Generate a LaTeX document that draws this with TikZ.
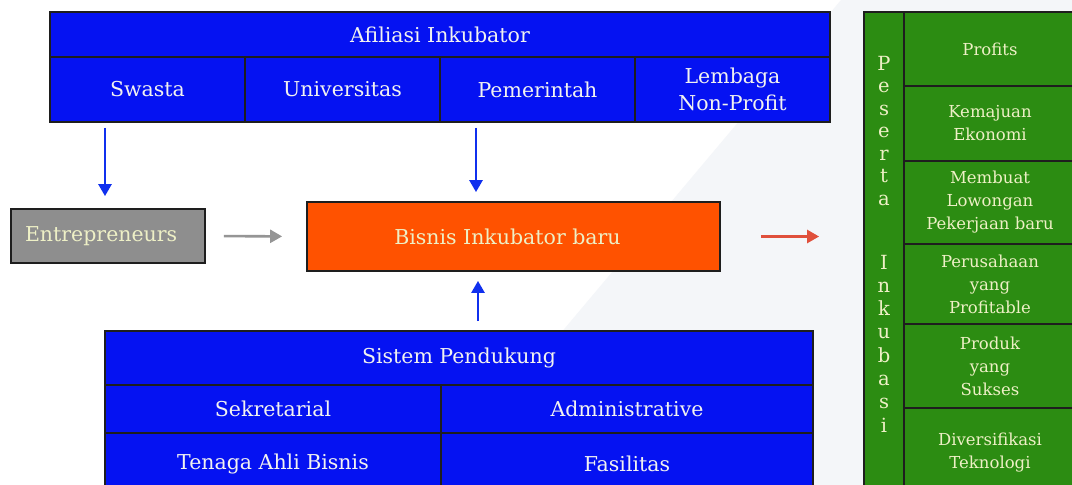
\documentclass[tikz,border=0pt]{standalone}
\usepackage{fontspec}
\setmainfont{DejaVu Serif}
\usetikzlibrary{arrows.meta}
\definecolor{boxblue}{HTML}{0512F2}
\definecolor{boxgreen}{HTML}{2C8C12}
\definecolor{boxorange}{HTML}{FF5200}
\definecolor{boxgray}{HTML}{8E8E8E}
\definecolor{edgedark}{HTML}{1E1E1E}
\definecolor{txtlight}{HTML}{F2F2F0}
\definecolor{txtcream}{HTML}{EEF0C6}
\definecolor{arrowred}{HTML}{E0503C}
\definecolor{arrowgray}{HTML}{959595}
\definecolor{arrowblue}{HTML}{1030EE}
\definecolor{bgshade}{HTML}{F4F6F9}
\newcommand{\bigtxt}{\fontsize{20.5}{27}\selectfont}
\newcommand{\smalltxt}{\fontsize{16.5}{23}\selectfont}
\tikzset{
  cell/.style={draw=edgedark, line width=1.8pt, inner sep=0pt, align=center},
  bluecell/.style={cell, fill=boxblue, text=txtlight, font=\bigtxt},
  greencell/.style={cell, fill=boxgreen, text=txtcream, font=\smalltxt,
    minimum width=172pt},
  letter/.style={inner sep=0pt, anchor=base, text=txtcream, font=\fontsize{19.5}{19.5}\selectfont},
  flow/.style={line width=2.6pt, -{Triangle[length=12pt,width=13pt]}}
}
\begin{document}
\begin{tikzpicture}[x=1pt, y=-1pt]
\useasboundingbox (0,0) rectangle (1072,485);
\clip (0,0) rectangle (1072,485);
\fill[white] (0,0) rectangle (1072,485);
\fill[bgshade] (841,0) -- (1072,0) -- (1072,485) -- (433,485) -- cycle;

% Afiliasi Inkubator table
\node[bluecell, minimum width=780pt, minimum height=45pt] (afil) at (440,34.5) {Afiliasi Inkubator};
\node[bluecell, minimum width=195pt, minimum height=65pt] (swasta) at (147.5,89.5) {Swasta};
\node[bluecell, minimum width=195pt, minimum height=65pt] (univ) at (342.5,89.5) {Universitas};
\node[bluecell, minimum width=195pt, minimum height=65pt] (pem) at (537.5,89.5) {Pemerintah};
\node[bluecell, minimum width=195pt, minimum height=65pt] (lembaga) at (732.5,89.5) {Lembaga\\Non-Profit};

% Middle row
\node[cell, fill=boxgray, text=txtcream, font=\bigtxt, minimum height=54pt,
      inner xsep=14pt, text width=166pt, align=left] (entre) at (108,236) {Entrepreneurs};
\node[cell, fill=boxorange, text=txtcream, font=\bigtxt, minimum width=413pt,
      minimum height=69pt] (bisnis) at (513.5,236.5) {Bisnis Inkubator baru\hspace*{12pt}};

% Sistem Pendukung table
\node[bluecell, minimum width=708pt, minimum height=54pt] (sistem) at (459,358) {Sistem Pendukung};
\node[bluecell, minimum width=336pt, minimum height=48pt] (sekr) at (273,409) {Sekretarial};
\node[bluecell, minimum width=372pt, minimum height=48pt] (admin) at (627,409) {Administrative};
\node[bluecell, minimum width=336pt, minimum height=62pt] (tenaga) at (273,464) {Tenaga Ahli Bisnis};
\node[bluecell, minimum width=372pt, minimum height=62pt] (fasil) at (627,464) {Fasilitas};

% Peserta Inkubasi column
\node[cell, fill=boxgreen, minimum width=40pt, minimum height=490pt] (peserta) at (884,257) {};
\node[greencell, minimum height=74pt] (profits) at (990,49) {Profits};
\node[greencell, minimum height=75pt] (kemajuan) at (990,123.5) {Kemajuan\\Ekonomi};
\node[greencell, minimum height=83pt] (lowongan) at (990,202.5) {Membuat\\Lowongan\\Pekerjaan baru};
\node[greencell, minimum height=80pt] (perusahaan) at (990,284) {Perusahaan\\yang\\Profitable};
\node[greencell, minimum height=84pt] (produk) at (990,366) {Produk\\yang\\Sukses};
\node[greencell, minimum height=90pt] (divers) at (990,453) {Diversifikasi\\Teknologi};

% vertical lettering
\foreach \ch [count=\i from 0] in {P,e,s,e,r,t,a}
  \node[letter] (pl\i) at (884,70+22.5*\i) {\ch};
\foreach \ch [count=\i from 0] in {I,n,k,u,b,a,s,i}
  \node[letter] (il\i) at (884,269+23.3*\i) {\ch};

% connectors
\coordinate (swx) at (105,0);
\coordinate (pemx) at (476,0);
\coordinate (supx) at (478,0);
\draw[flow, arrowblue, shorten <=5pt, shorten >=12pt] (swasta.south -| swx) -- (entre.north -| swx);
\draw[flow, arrowblue, shorten <=5pt, shorten >=9pt] (pem.south -| pemx) -- (bisnis.north -| pemx);
\draw[flow, arrowblue, shorten <=9pt, shorten >=9pt] (sistem.north -| supx) -- (bisnis.south -| supx);
\draw[flow, arrowgray, shorten <=18pt, shorten >=24pt] (entre.east) -- (bisnis.west);
\draw[flow, arrowred, shorten <=40pt, shorten >=44pt] (bisnis.east) -- (peserta.west |- bisnis.east);
\end{tikzpicture}
\end{document}
